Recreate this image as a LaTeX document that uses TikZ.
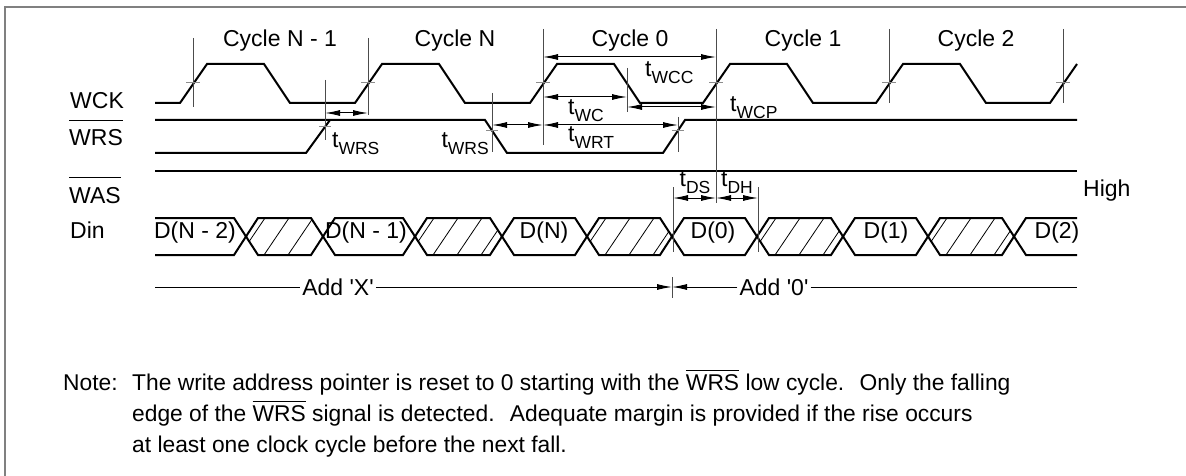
\documentclass[tikz,border=0pt]{standalone}
\usepackage{fontspec}
\setmainfont{Liberation Sans}
\usetikzlibrary{arrows.meta}
\newcommand\tsub[1]{t\raisebox{-7pt}{\fontsize{17.5}{18}\selectfont #1}}
\newcommand\barred[3]{\vbox{\hrule height #1\kern#2\hbox{#3}}}

\begin{document}
\begin{tikzpicture}[x=1pt,y=-1pt,>={Latex[length=15pt,width=6pt]},
  sig/.style={line width=2pt,line join=miter},
  ref/.style={line width=1pt,black!70},
  tick/.style={line width=1pt,black!45},
  dim/.style={line width=1pt,<->},
  lbl/.style={font=\fontsize{23}{27}\selectfont,inner sep=0pt},
  txt/.style={font=\fontsize{22.8}{27}\selectfont,inner sep=0pt,anchor=base west}]
  \useasboundingbox (0,0) rectangle (1186,476);
  \draw[black!50,line width=2pt] (1186,7) -- (5,7) -- (5,476);

  \node[lbl,anchor=base west] (wck) at (70,109) {WCK};
  \node[lbl,anchor=base west] (wrs) at (69,146) {\barred{1.5pt}{8.5pt}{WRS}};
  \node[lbl,anchor=base west] (was) at (69,203) {\barred{1.5pt}{8.5pt}{WAS}};
  \node[lbl,anchor=base west] (din) at (70,238) {Din};
  \node[lbl,anchor=base west] (high) at (1083,196) {High};

  \foreach \x/\t [count=\i] in {280/Cycle N - 1,455/Cycle N,630/Cycle 0,803/Cycle 1,976/Cycle 2}
    \node[lbl,anchor=base] (cyc\i) at (\x,47) {\t};

  \draw[sig] (155,103) \foreach \m in {193,368,543,716,889}
    {-- (\m-13,103) -- (\m+14,64) -- (\m+71,64) -- (\m+97,103)} -- (1050,103) -- (1077,64);
  \draw[sig] (155,120) -- (485,120) -- (507,153) -- (663,153) -- (685,120) -- (1077,120);
  \draw[sig] (155,153) -- (306,153) -- (330,120);
  \draw[sig] (155,171) -- (1077,171);

  \draw[sig] (155,218) -- (234,218) -- (246,236.5) -- (234,255) -- (155,255);
  \foreach \a/\b in {246/323,323/415,415/502,502/587,587/672,672/757,757/843,843/928,928/1014}
    \draw[sig] (\a,236.5) -- (\a+12,218) -- (\b-12,218) -- (\b,236.5) -- (\b-12,255) -- (\a+12,255) -- cycle;
  \draw[sig] (1077,218) -- (1026,218) -- (1014,236.5) -- (1026,255) -- (1077,255);
  \foreach \a/\b in {246/323,415/502,587/672,757/843,928/1014}{
    \begin{scope}
      \clip (\a,236.5) -- (\a+12,218) -- (\b-12,218) -- (\b,236.5) -- (\b-12,255) -- (\a+12,255) -- cycle;
      \foreach \h in {-6,18,...,90} \draw[line width=0.8pt] (\a+\h,255) -- ++(25,-37);
    \end{scope}}
  \foreach \x/\t [count=\i] in {195/D(N - 2),366/D(N - 1),544/D(N),713/D(0),886/D(1),1057/D(2)}
    \node[lbl,anchor=base] (dat\i) at (\x,238) {\t};

  \foreach \x/\ya/\yb in {193/38/107,368/38/115,543/29/145,716/29/203,889/29/103,1063/29/103,
      325/80/140,492/93/152,627/68/112,678/117/152,673/187/252,758/187/252,672/277/298}
    \draw[ref] (\x,\ya) -- (\x,\yb);
  \foreach \m in {193,368,543,716,889,1063}
    \draw[tick] (\m-7,83) -- (\m+7,83);
  \foreach \x/\y in {325/127,492/131,678/131}
    \draw[tick] (\x-6,\y) -- (\x+6,\y);

  \coordinate (c0) at (543,57);   \coordinate (c1) at (716,57);
  \draw[dim] (c0) -- (c1);
  \draw[dim] (543,97) -- (627,97);
  \draw[dim] (627,107) -- (716,107);
  \draw[dim] (325,113) -- (368,113);
  \draw[dim] (492,125) -- (543,125);
  \draw[dim] (543,125) -- (678,125);
  \draw[dim] (673,198) -- (716,198);
  \draw[dim] (716,198) -- (758,198);

  \node[lbl,anchor=base west] (twcc) at (645,77) {\tsub{WCC}};
  \node[lbl,anchor=base west] (twc) at (568,115) {\tsub{WC}};
  \node[lbl,anchor=base west] (twcp) at (730,112) {\tsub{WCP}};
  \node[lbl,anchor=base west] (twrsa) at (332,148) {\tsub{WRS}};
  \node[lbl,anchor=base east] (twrsb) at (489,147) {\tsub{WRS}};
  \node[lbl,anchor=base west] (twrt) at (568,142) {\tsub{WRT}};
  \node[lbl,anchor=base] (tds) at (695,186) {\tsub{DS}};
  \node[lbl,anchor=base] (tdh) at (737,186) {\tsub{DH}};

  \coordinate (a0) at (155,287);
  \coordinate (am) at (672,287);
  \coordinate (a1) at (1077,287);
  \node[lbl,inner sep=2pt] (addx) at (338,287) {Add \textquotesingle X\textquotesingle};
  \node[lbl,inner sep=2pt] (add0) at (774,287) {Add \textquotesingle 0\textquotesingle};
  \draw[line width=1pt] (a0) -- (addx.west);
  \draw[line width=1pt,->] (addx.east) -- (am);
  \draw[line width=1pt,->] (add0.west) -- (am);
  \draw[line width=1pt] (add0.east) -- (a1);

  \node[txt] (note) at (63,390) {Note:};
  \node[txt] (note1) at (132,390) {The write address pointer is reset to 0 starting with the \barred{1pt}{3pt}{WRS} low cycle.\hspace{0.3em} Only the falling};
  \node[txt] (note2) at (132,421) {edge of the \barred{1pt}{3pt}{WRS} signal is detected.\hspace{0.3em} Adequate margin is provided if the rise occurs};
  \node[txt] (note3) at (132,452) {at least one clock cycle before the next fall.};
\end{tikzpicture}
\end{document}
